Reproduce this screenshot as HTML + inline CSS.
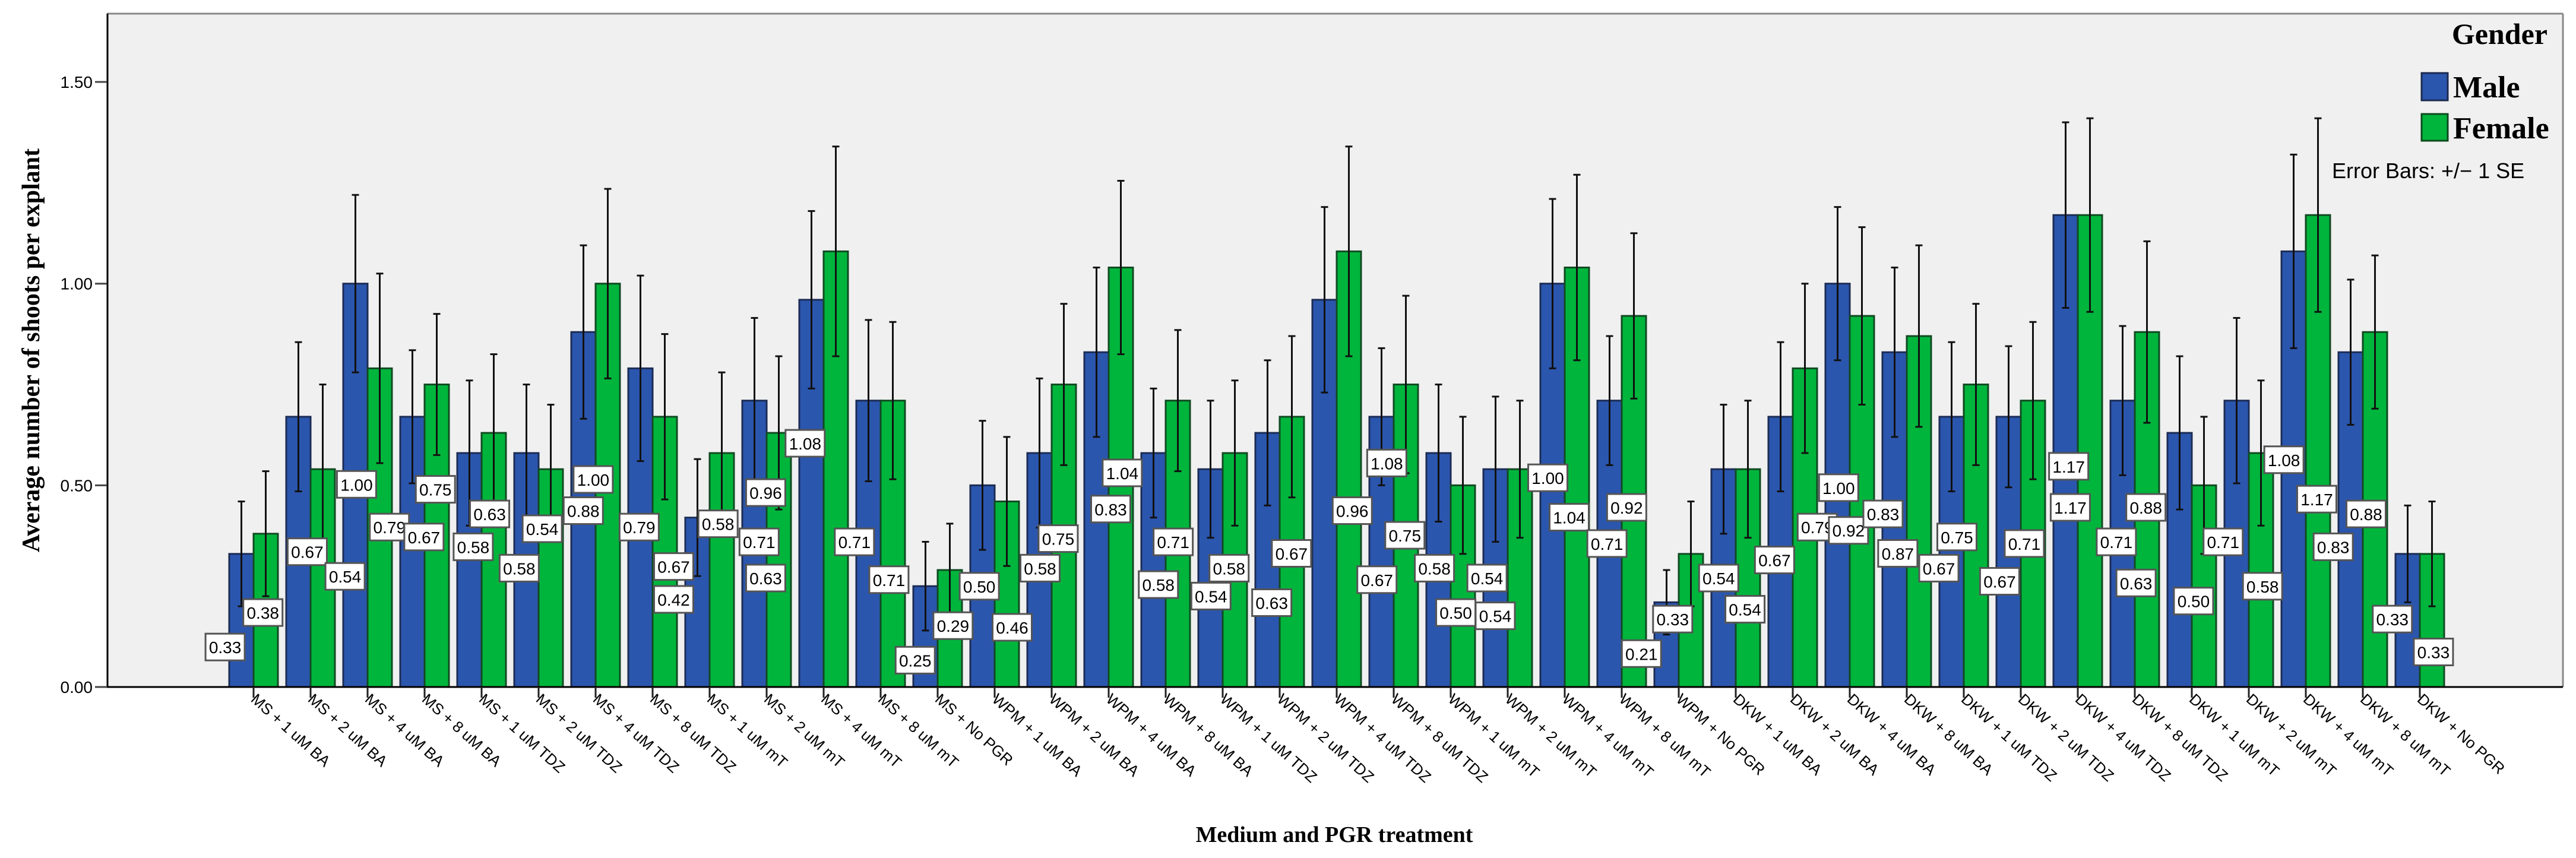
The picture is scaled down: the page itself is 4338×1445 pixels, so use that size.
<!DOCTYPE html>
<html><head><meta charset="utf-8"><style>
html,body{margin:0;padding:0;background:#fff;}
svg{display:block;}
</style></head><body>
<svg id="chart" width="4338" height="1445" xmlns="http://www.w3.org/2000/svg">
<rect x="180" y="23" width="4136" height="1134" fill="#F0F0F0"/>
<g id="bars"></g>
<g id="labels"></g>
<line x1="180" y1="23" x2="4316" y2="23" stroke="#888" stroke-width="3"/>
<line x1="4316" y1="23" x2="4316" y2="1157" stroke="#888" stroke-width="3"/>
<line x1="181" y1="23" x2="181" y2="1158" stroke="#000" stroke-width="3"/>
<line x1="180" y1="1157" x2="4316" y2="1157" stroke="#000" stroke-width="3"/>
<g id="yticks"></g>
<g id="xticks"></g>
<text x="0" y="0" transform="translate(66,590) rotate(-90)" text-anchor="middle" font-family="Liberation Serif, serif" font-weight="bold" font-size="42">Average number of shoots per explant</text>
<text x="2247" y="1418" text-anchor="middle" font-family="Liberation Serif, serif" font-weight="bold" font-size="38">Medium and PGR treatment</text>
<g>
<text x="4290" y="74" text-anchor="end" font-family="Liberation Serif, serif" font-weight="bold" font-size="50">Gender</text>
<rect x="4078" y="123" width="44" height="46" fill="#2B56AE" stroke="#1a2a50" stroke-width="3"/>
<text x="4131" y="164" font-family="Liberation Serif, serif" font-weight="bold" font-size="52">Male</text>
<rect x="4078" y="192" width="44" height="45" fill="#00B53C" stroke="#0a4a1c" stroke-width="3"/>
<text x="4131" y="233" font-family="Liberation Serif, serif" font-weight="bold" font-size="52">Female</text>
<text x="3927" y="300" font-family="Liberation Sans, sans-serif" font-size="36">Error Bars: +/− 1 SE</text>
</g>
</svg>
<script>
const categories = ["MS + 1 uM BA","MS + 2 uM BA","MS + 4 uM BA","MS + 8 uM BA","MS + 1 uM TDZ","MS + 2 uM TDZ","MS + 4 uM TDZ","MS + 8 uM TDZ","MS + 1 uM mT","MS + 2 uM mT","MS + 4 uM mT","MS + 8 uM mT","MS + No PGR",
"WPM + 1 uM BA","WPM + 2 uM BA","WPM + 4 uM BA","WPM + 8 uM BA","WPM + 1 uM TDZ","WPM + 2 uM TDZ","WPM + 4 uM TDZ","WPM + 8 uM TDZ","WPM + 1 uM mT","WPM + 2 uM mT","WPM + 4 uM mT","WPM + 8 uM mT","WPM + No PGR",
"DKW + 1 uM BA","DKW + 2 uM BA","DKW + 4 uM BA","DKW + 8 uM BA","DKW + 1 uM TDZ","DKW + 2 uM TDZ","DKW + 4 uM TDZ","DKW + 8 uM TDZ","DKW + 1 uM mT","DKW + 2 uM mT","DKW + 4 uM mT","DKW + 8 uM mT","DKW + No PGR"];
const maleMeans = [.33,.67,1.00,.67,.58,.58,.88,.79,.42,.71,.96,.71,.25, .50,.58,.83,.58,.54,.63,.96,.67,.58,.54,1.00,.71,.21, .54,.67,1.00,.83,.67,.67,1.17,.71,.63,.71,1.08,.83,.33];
const femaleMeans = [.38,.54,.79,.75,.63,.54,1.00,.67,.58,.63,1.08,.71,.29, .46,.75,1.04,.71,.58,.67,1.08,.75,.50,.54,1.04,.92,.33, .54,.79,.92,.87,.75,.71,1.17,.88,.50,.58,1.17,.88,.33];
const maleSE = [.13,.185,.22,.165,.18,.17,.215,.23,.145,.205,.22,.20,.11, .16,.185,.21,.16,.17,.18,.23,.17,.17,.18,.21,.16,.08, .16,.185,.19,.21,.185,.175,.23,.185,.19,.205,.24,.18,.12];
const femaleSE = [.155,.21,.235,.175,.195,.16,.235,.205,.20,.19,.26,.195,.115, .16,.20,.215,.175,.18,.20,.26,.22,.17,.17,.23,.205,.13, .17,.21,.22,.225,.20,.195,.24,.225,.17,.18,.24,.19,.13];
const yTicks = [0, 0.5, 1.0, 1.5];
const yTickLabels = ["0.00","0.50","1.00","1.50"];
// label layout (reference-image coordinates, thumbnail scale)
const maleLabelLayout = [[137,394],[187,336],[217,295],[258,327],[288,333],[316,346],[355,311],[389,321],[410,365],[462,330],[466,300],[520,330],[557,402],
[596,357],[633,346],[676,310],[705,356],[737,363],[774,367],[823,311],[838,353],[873,346],[905,352],[942,291],[978,331],[999,398],
[1046,352],[1080,341],[1119,297],[1146,313],[1180,346],[1217,354],[1259,284],[1288,330],[1300,355],[1353,330],[1390,280],[1420,333],[1456,377]];
const femaleLabelLayout = [[160,373],[210,351],[237,321],[265,298],[298,313],[330,322],[361,292],[410,345],[437,319],[466,352],[490,270],[541,353],[580,381],
[616,382],[644,328],[683,288],[714,330],[748,346],[786,337],[844,282],[855,326],[886,373],[910,375],[955,315],[990,309],[1018,377],
[1062,371],[1106,321],[1125,323],[1155,337],[1191,327],[1232,331],[1260,309],[1306,309],[1335,366],[1377,357],[1410,304],[1440,313],[1481,397]];

const NS = "http://www.w3.org/2000/svg";
const Y0 = 1157, PXU = 679.3, X0 = 427, STEP = 96, BW = 41, TS = 2.767;
function yScale(v){ return Y0 - v*PXU; }
function xScale(i){ return X0 + STEP*i; }
function mk(tag, attrs, parent){ const e=document.createElementNS(NS,tag); for(const k in attrs) e.setAttribute(k,attrs[k]); parent.appendChild(e); return e; }

const gb = document.getElementById('bars');
const gl = document.getElementById('labels');
const series = [
  {means: maleMeans, se: maleSE, fill:"#2B56AE", stroke:"#1c2c55", off:-BW, name:"male", layout: maleLabelLayout},
  {means: femaleMeans, se: femaleSE, fill:"#00B53C", stroke:"#114a22", off:0, name:"female", layout: femaleLabelLayout}
];
categories.forEach((c,i)=>{
  series.forEach(s=>{
    const v = s.means[i], x = xScale(i)+s.off, y = yScale(v);
    const r = mk('rect',{x:x, y:y, width:BW, height:Y0-y, fill:s.fill, stroke:s.stroke, 'stroke-width':3}, gb);
    
    
  });
});
categories.forEach((c,i)=>{
  series.forEach(s=>{
    const v = s.means[i], cx = xScale(i)+s.off+BW/2;
    const t = yScale(v+s.se[i]), b = yScale(v-s.se[i]);
    const eg = mk('g',{stroke:"#111", 'stroke-width':3}, gb);
    
    
    mk('line',{x1:cx,y1:t,x2:cx,y2:b}, eg);
    mk('line',{x1:cx-6,y1:t,x2:cx+6,y2:t}, eg);
    mk('line',{x1:cx-6,y1:b,x2:cx+6,y2:b}, eg);
  });
});
categories.forEach((c,i)=>{
  series.forEach(s=>{
    const lx = s.layout[i][0]*TS, ly = s.layout[i][1]*TS;
    const g = mk('g',{}, gl);
    
    
    mk('rect',{x:lx-33, y:ly-23, width:66, height:45, fill:"#fff", stroke:"#555", 'stroke-width':3}, g);
    const t = mk('text',{x:lx, y:ly+10, 'text-anchor':'middle', 'font-family':'Liberation Sans, sans-serif', 'font-size':28, fill:'#000'}, g);
    t.textContent = s.means[i].toFixed(2);
  });
});
const gy = document.getElementById('yticks');
yTicks.forEach((v,k)=>{
  const y = yScale(v);
  const ln = mk('line',{x1:160,y1:y,x2:180,y2:y,stroke:'#444','stroke-width':3}, gy);
  
  
  const t = mk('text',{x:156,y:y+10,'text-anchor':'end','font-family':'Liberation Sans, sans-serif','font-size':28}, gy);
  
  
  t.textContent = yTickLabels[k];
});
const gx = document.getElementById('xticks');
categories.forEach((c,i)=>{
  const x = xScale(i);
  const ln = mk('line',{x1:x,y1:1157,x2:x,y2:1175,stroke:'#222','stroke-width':3}, gx);
  
  
  const t = mk('text',{x:0,y:0,transform:'translate('+(x-6)+',1180) rotate(42)','font-family':'Liberation Sans, sans-serif','font-size':26}, gx);
  
  
  t.textContent = c;
});
</script>
</body></html>
